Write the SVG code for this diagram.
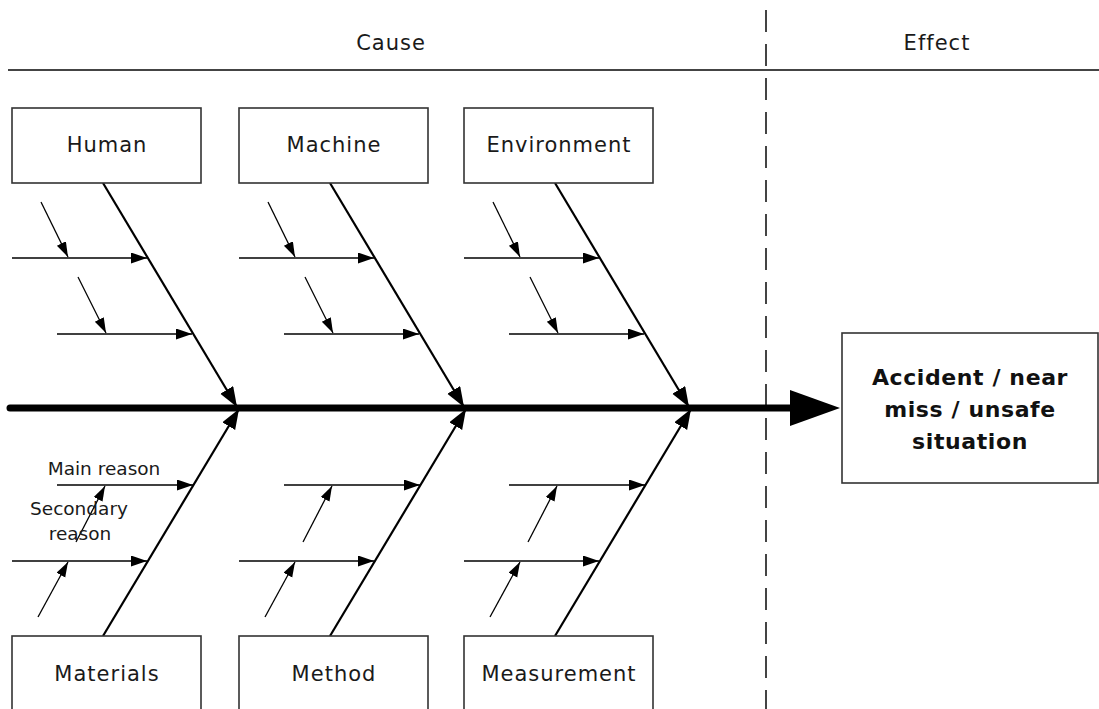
<svg xmlns="http://www.w3.org/2000/svg" width="1099" height="709" viewBox="0 0 1099 709">
<style>
  .bg { fill: #ffffff; }
  .box { fill: #ffffff; stroke: #333333; stroke-width: 1.6; }
  .lbl { font-family: "DejaVu Sans", Verdana, sans-serif; font-size: 21px; fill: #1a1a1a; text-anchor: middle; letter-spacing: 1px; }
  .small { font-family: "DejaVu Sans", Verdana, sans-serif; font-size: 18.5px; fill: #1a1a1a; text-anchor: middle; }
  .eff { font-family: "DejaVu Sans", Verdana, sans-serif; font-size: 22px; font-weight: bold; fill: #111111; text-anchor: middle; letter-spacing: 0.6px; }
  .bone { stroke: #000000; stroke-width: 2.2; fill: none; marker-end: url(#big); }
  .sub { stroke: #000000; stroke-width: 1.6; fill: none; marker-end: url(#mid); }
  .sec { stroke: #000000; stroke-width: 1.3; fill: none; marker-end: url(#sm); }
  .spine { stroke: #000000; stroke-width: 7; stroke-linecap: round; fill: none; }
  .rule { stroke: #444444; stroke-width: 2; fill: none; }
  .dash { stroke: #444444; stroke-width: 2; stroke-dasharray: 22 12; fill: none; }
</style>
<defs>
  <marker id="big" markerUnits="userSpaceOnUse" markerWidth="22" markerHeight="16" refX="20" refY="7.5" orient="auto">
    <path d="M0,0 L20,7.5 L0,15 z" fill="#000000"/>
  </marker>
  <marker id="mid" markerUnits="userSpaceOnUse" markerWidth="18" markerHeight="12" refX="16" refY="5.5" orient="auto">
    <path d="M0,0 L16,5.5 L0,11 z" fill="#000000"/>
  </marker>
  <marker id="sm" markerUnits="userSpaceOnUse" markerWidth="16" markerHeight="12" refX="15" refY="5" orient="auto">
    <path d="M0,0 L15,5 L0,10 z" fill="#000000"/>
  </marker>
</defs>
<rect class="bg" x="0" y="0" width="1099" height="709"/>

<g id="header">
  <line class="rule" x1="8" y1="70" x2="1099" y2="70"/>
  <line class="dash" x1="766" y1="10" x2="766" y2="709"/>
  <text class="lbl" x="391" y="50">Cause</text>
  <text class="lbl" x="937" y="50">Effect</text>
</g>

<g id="connectors">
  <line class="spine" x1="10" y1="408" x2="795" y2="408"/>
  <polygon points="790,390 840,408 790,426" fill="#000000"/>

  <!-- Human -->
  <line class="bone" x1="103" y1="183" x2="237" y2="407"/>
  <line class="sub" x1="12" y1="258" x2="147" y2="258"/>
  <line class="sub" x1="57" y1="334" x2="192" y2="334"/>
  <line class="sec" x1="41" y1="202" x2="68" y2="257"/>
  <line class="sec" x1="78" y1="277" x2="106" y2="333"/>
  <!-- Machine -->
  <line class="bone" x1="330" y1="183" x2="464" y2="407"/>
  <line class="sub" x1="239" y1="258" x2="374" y2="258"/>
  <line class="sub" x1="284" y1="334" x2="419" y2="334"/>
  <line class="sec" x1="268" y1="202" x2="295" y2="257"/>
  <line class="sec" x1="305" y1="277" x2="333" y2="333"/>
  <!-- Environment -->
  <line class="bone" x1="555" y1="183" x2="689" y2="407"/>
  <line class="sub" x1="464" y1="258" x2="599" y2="258"/>
  <line class="sub" x1="509" y1="334" x2="644" y2="334"/>
  <line class="sec" x1="493" y1="202" x2="520" y2="257"/>
  <line class="sec" x1="530" y1="277" x2="558" y2="333"/>

  <!-- Materials -->
  <line class="bone" x1="103" y1="636" x2="239" y2="409"/>
  <line class="sub" x1="57" y1="485" x2="193" y2="485"/>
  <line class="sub" x1="12" y1="561" x2="147" y2="561"/>
  <line class="sec" x1="38" y1="617" x2="68" y2="562"/>
  <line class="sec" x1="76" y1="542" x2="105" y2="486"/>
  <!-- Method -->
  <line class="bone" x1="330" y1="636" x2="466" y2="409"/>
  <line class="sub" x1="284" y1="485" x2="420" y2="485"/>
  <line class="sub" x1="239" y1="561" x2="374" y2="561"/>
  <line class="sec" x1="265" y1="617" x2="295" y2="562"/>
  <line class="sec" x1="303" y1="542" x2="332" y2="486"/>
  <!-- Measurement -->
  <line class="bone" x1="555" y1="636" x2="691" y2="409"/>
  <line class="sub" x1="509" y1="485" x2="645" y2="485"/>
  <line class="sub" x1="464" y1="561" x2="599" y2="561"/>
  <line class="sec" x1="490" y1="617" x2="520" y2="562"/>
  <line class="sec" x1="528" y1="542" x2="557" y2="486"/>
</g>

<g id="legend">
  <text class="small" x="104" y="475">Main reason</text>
  <text class="small" x="79" y="515">Secondary</text>
  <text class="small" x="80" y="540">reason</text>
</g>

<g id="human">
  <rect class="box" x="12" y="108" width="189" height="75"/>
  <text class="lbl" x="107" y="152">Human</text>
</g>
<g id="machine">
  <rect class="box" x="239" y="108" width="189" height="75"/>
  <text class="lbl" x="334" y="152">Machine</text>
</g>
<g id="environment">
  <rect class="box" x="464" y="108" width="189" height="75"/>
  <text class="lbl" x="559" y="152">Environment</text>
</g>
<g id="materials">
  <rect class="box" x="12" y="636" width="189" height="85"/>
  <text class="lbl" x="107" y="681">Materials</text>
</g>
<g id="method">
  <rect class="box" x="239" y="636" width="189" height="85"/>
  <text class="lbl" x="334" y="681">Method</text>
</g>
<g id="measurement">
  <rect class="box" x="464" y="636" width="189" height="85"/>
  <text class="lbl" x="559" y="681">Measurement</text>
</g>
<g id="effect">
  <rect class="box" x="842" y="333" width="256" height="150"/>
  <text class="eff" x="970" y="385">Accident / near</text>
  <text class="eff" x="970" y="417">miss / unsafe</text>
  <text class="eff" x="970" y="449">situation</text>
</g>
</svg>
